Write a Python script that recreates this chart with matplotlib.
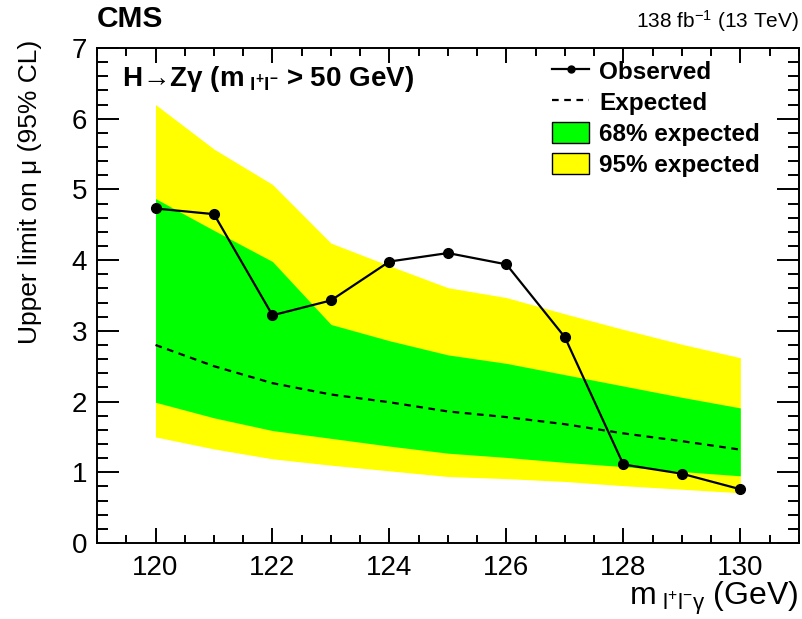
import numpy as np
import matplotlib
matplotlib.use('Agg')
import matplotlib.pyplot as plt
from matplotlib.lines import Line2D
from matplotlib.patches import Patch
from matplotlib.ticker import MultipleLocator

plt.rcParams['font.family'] = ['Liberation Sans', 'DejaVu Sans']
plt.rcParams['mathtext.fontset'] = 'custom'
plt.rcParams['mathtext.rm'] = 'Liberation Sans'
plt.rcParams['mathtext.it'] = 'Liberation Sans'
plt.rcParams['mathtext.bf'] = 'Liberation Sans:bold'
plt.rcParams['mathtext.default'] = 'regular'

# limits
mass = [120, 121, 122, 123, 124, 125, 126, 127, 128, 129, 130]
observed = [4.73, 4.65, 3.22, 3.43, 3.98, 4.10, 3.94, 2.91, 1.11, 0.98, 0.76]
expected = [2.80, 2.50, 2.26, 2.10, 1.99, 1.86, 1.78, 1.68, 1.55, 1.44, 1.32]
band68_hi = [4.87, 4.42, 3.98, 3.09, 2.86, 2.66, 2.54, 2.38, 2.22, 2.06, 1.91]
band68_lo = [1.99, 1.77, 1.59, 1.48, 1.37, 1.27, 1.21, 1.14, 1.08, 1.01, 0.95]
band95_hi = [6.20, 5.57, 5.07, 4.24, 3.92, 3.61, 3.47, 3.24, 3.02, 2.81, 2.62]
band95_lo = [1.50, 1.33, 1.19, 1.10, 1.02, 0.94, 0.91, 0.87, 0.81, 0.76, 0.71]

fig = plt.figure(figsize=(8.02, 6.19), dpi=100)
ax = fig.add_axes([0.121, 0.1228, 0.875, 0.7997])

ax.fill_between(mass, band95_lo, band95_hi, color='#ffff00', lw=0)
ax.fill_between(mass, band68_lo, band68_hi, color='#00ff00', lw=0)
ax.plot(mass, expected, color='black', ls=(0, (3, 2.5)), lw=1.6)
ax.plot(mass, observed, color='black', lw=1.6, marker='o', ms=7)

ax.set_xlim(119, 131)
ax.set_ylim(0, 7)
ax.xaxis.set_major_locator(MultipleLocator(2))
ax.xaxis.set_minor_locator(MultipleLocator(0.5))
ax.yaxis.set_major_locator(MultipleLocator(1))
ax.yaxis.set_minor_locator(MultipleLocator(0.2))
ax.tick_params(axis='both', which='both', direction='in', top=True, right=True, width=1.4)
ax.tick_params(axis='x', which='major', length=11, labelsize=20, pad=9)
ax.tick_params(axis='x', which='minor', length=5.5)
ax.tick_params(axis='y', which='major', length=15.5, labelsize=20, pad=7)
ax.tick_params(axis='y', which='minor', length=8)
for s in ax.spines.values():
    s.set_linewidth(1.4)

fig.text(0.121, 0.947, 'CMS', fontsize=21.5, fontweight='bold', ha='left', va='bottom')
fig.text(0.996, 0.945, r'138 fb$^{-1}$ (13 TeV)', fontsize=15, ha='right', va='bottom')
fig.text(0.996, 0.033, r'm$_{\mathregular{\ l^{+}l^{-}\gamma}}$ (GeV)', fontsize=23, ha='right', va='center')
fig.text(0.037, 0.935, u'Upper limit on \u03bc (95% CL)', fontsize=19, rotation=90, ha='center', va='top')

ax.text(0.0356, 0.937, u'H\u2192Z\u03b3 (m$_{\\mathregular{\\ l^{+}l^{-}}}$ > 50 GeV)',
        transform=ax.transAxes, fontsize=20, fontweight='bold', va='center', ha='left')

handles = [Line2D([], [], color='black', lw=1.6, marker='o', ms=5),
           Line2D([], [], color='black', lw=1.6, ls=(0, (3, 2.5))),
           Patch(facecolor='#00ff00', edgecolor='black', lw=1),
           Patch(facecolor='#ffff00', edgecolor='black', lw=1)]
labels = ['Observed', 'Expected', '68% expected', '95% expected']
leg = ax.legend(handles, labels, loc='upper left', bbox_to_anchor=(0.648, 0.976),
                frameon=False, prop={'weight': 'bold', 'size': 17.5}, borderpad=0,
                handlelength=1.55, handleheight=0.95, handletextpad=0.4, labelspacing=0.3,
                borderaxespad=0)

fig.savefig('out.png', dpi=100)
